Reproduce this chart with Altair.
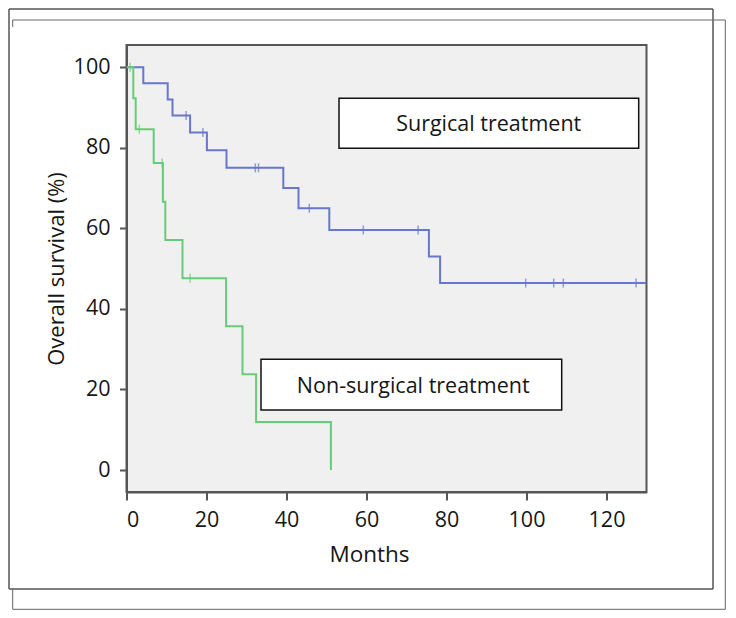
import altair as alt
import pandas as pd

# ---- data ----
surg_times = [0, 4.2, 10.3, 11.5, 15.9, 20.1, 25.0, 39.2, 43.0, 50.7, 75.6, 78.4, 130.0]
surg_surv = [100, 96.0, 92.0, 88.0, 83.8, 79.4, 75.0, 70.0, 65.0, 59.6, 53.0, 46.4, 46.4]
surg_censor = [14.9, 19.1, 32.2, 33.0, 45.7, 59.2, 72.9, 99.8, 106.8, 109.2, 127.4]

non_times = [0, 1.7, 2.3, 6.8, 9.1, 9.7, 14.0, 24.9, 29.0, 32.4, 51.1]
non_surv = [100, 92.3, 84.6, 76.2, 66.6, 57.1, 47.6, 35.7, 23.8, 11.9, 0]
non_censor = [0.9, 3.2, 8.9, 15.9]

groups = ["Surgical treatment", "Non-surgical treatment"]
colors = ["#6677cc", "#66cc77"]
x_ticks = [0, 20, 40, 60, 80, 100, 120]
y_ticks = [0, 20, 40, 60, 80, 100]

FONT = "Open Sans"
TXT = "#161616"
AX = "#555555"


def surv_at(t, times, surv):
    v = surv[0]
    for ti, si in zip(times, surv):
        if ti <= t:
            v = si
    return v


curve = pd.DataFrame(
    [{"g": groups[0], "t": t, "s": s} for t, s in zip(surg_times, surg_surv)]
    + [{"g": groups[1], "t": t, "s": s} for t, s in zip(non_times, non_surv)]
)
cens = pd.DataFrame(
    [{"g": groups[0], "t": t, "s": surv_at(t, surg_times, surg_surv)} for t in surg_censor]
    + [{"g": groups[1], "t": t, "s": surv_at(t, non_times, non_surv)} for t in non_censor]
)

xscale = alt.Scale(domain=[0, 130], nice=False, zero=False)
yscale = alt.Scale(domain=[-5.46, 105.5], nice=False, zero=False)
cscale = alt.Scale(domain=groups, range=colors)

xaxis = alt.Axis(
    values=x_ticks, grid=False, title="Months",
    domainColor=AX, domainWidth=2, tickColor=AX, tickWidth=2, tickSize=8,
    labelFont=FONT, labelFontSize=21.5, labelColor=TXT, labelPadding=9.5,
    titleFont=FONT, titleFontSize=22.5, titleFontWeight="normal", titleColor=TXT,
    titleX=242.5, titleY=69.7, titleBaseline="alphabetic", titleAlign="center",
)
yaxis = alt.Axis(
    values=y_ticks, grid=False, title="Overall survival (%)",
    domainColor=AX, domainWidth=2, tickColor=AX, tickWidth=2, tickSize=7,
    labelFont=FONT, labelFontSize=21.5, labelColor=TXT, labelPadding=9.5,
    titleFont=FONT, titleFontSize=22, titleFontWeight="normal", titleColor=TXT,
    titleAngle=270, titleX=-63.2, titleY=223.5, titleBaseline="alphabetic",
    titleAlign="center",
)

lines = alt.Chart(curve).mark_line(interpolate="step-after", strokeWidth=2, clip=True).encode(
    x=alt.X("t:Q", scale=xscale, axis=xaxis),
    y=alt.Y("s:Q", scale=yscale, axis=yaxis),
    color=alt.Color("g:N", scale=cscale, legend=None),
    detail="g:N",
)
ticks = alt.Chart(cens).mark_tick(orient="vertical", size=9, thickness=1.5).encode(
    x=alt.X("t:Q", scale=xscale),
    y=alt.Y("s:Q", scale=yscale),
    color=alt.Color("g:N", scale=cscale, legend=None),
)

one = pd.DataFrame({"d": [0]})


def hrule(x1, x2, y, color, w):
    return alt.Chart(one).mark_rule(color=color, strokeWidth=w).encode(
        x=alt.value(x1), x2=alt.value(x2), y=alt.value(y))


def vrule(x, y1, y2, color, w):
    return alt.Chart(one).mark_rule(color=color, strokeWidth=w).encode(
        x=alt.value(x), y=alt.value(y1), y2=alt.value(y2))


frames = [
    # outer frame A
    hrule(-117.5, 586.5, -36, "#555555", 1.5),
    vrule(-117.5, -36, 544, "#555555", 1.5),
    vrule(586.5, -36, 544, "#555555", 1.5),
    hrule(-117.5, 586.5, 544, "#555555", 1.5),
    # offset frame B
    hrule(-113.8, 598.8, -25, "#666666", 1),
    vrule(598.8, -25, 564.3, "#666666", 1),
    hrule(-113.8, 598.8, 564.3, "#666666", 1),
    vrule(-113.8, -25, -18, "#666666", 1),
    vrule(-113.8, 544, 564.3, "#666666", 1),
]


def label_box(x1, x2, y1, y2, tx, ty, text):
    box = alt.Chart(one).mark_rect(fill="white", stroke="#111111", strokeWidth=1.5).encode(
        x=alt.value(x1), x2=alt.value(x2), y=alt.value(y1), y2=alt.value(y2))
    lab = alt.Chart(one).mark_text(
        text=text, font=FONT, fontSize=21.5, color=TXT, align="center", baseline="alphabetic"
    ).encode(x=alt.value(tx), y=alt.value(ty))
    return [box, lab]


boxes = label_box(212.5, 512.2, 53.3, 103.3, 362.2, 85.7, groups[0]) + \
    label_box(134.5, 435.2, 314.3, 365.0, 286.7, 347.7, groups[1])

chart = alt.layer(lines, ticks, *boxes, *frames).properties(
    width=520, height=447,
    autosize=alt.AutoSizeParams(type="none"),
    padding={"left": 118.5, "top": 37, "right": 81.5, "bottom": 118},
    background="white",
).configure_view(fill="#f0f0f0", stroke=AX, strokeWidth=2)

chart.save("out.html", embed_options={"renderer": "svg", "actions": False})
